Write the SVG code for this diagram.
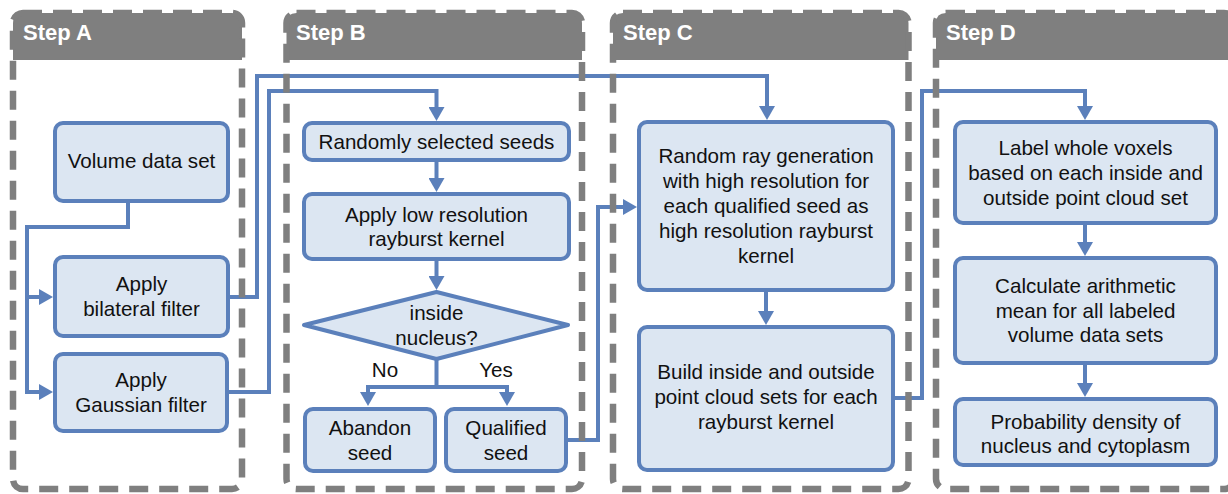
<svg xmlns="http://www.w3.org/2000/svg" width="1228" height="494" viewBox="0 0 1228 494">
<defs>
<style>
.hdr{fill:#7f7f7f}
.frame{fill:none;stroke:#7f7f7f;stroke-width:6.5;stroke-dasharray:19 11}
.ht{font-family:"Liberation Sans",Arial,sans-serif;font-weight:bold;font-size:22px;fill:#ffffff}
.box{fill:#dce6f2;stroke:#5b80bb;stroke-width:4}
.t{font-family:"Liberation Sans",Arial,sans-serif;font-size:20.6px;fill:#111111;text-anchor:middle}
.c{fill:none;stroke:#5b80bb;stroke-width:4;marker-end:url(#ah)}
.cl{fill:none;stroke:#5b80bb;stroke-width:4}
</style>
<marker id="ah" viewBox="0 0 14 16" refX="4" refY="8" markerWidth="14" markerHeight="16" markerUnits="userSpaceOnUse" orient="auto"><path d="M0,0 L14,8 L0,16 z" fill="#5b80bb"/></marker>
</defs>
<rect width="1228" height="494" fill="#ffffff"/>

<g id="connectors">
<path class="c" d="M128,201 V227 H27 V297 H43"/>
<path class="c" d="M27,297 V392 H43"/>
<path class="c" d="M228,297 H257 V76 H767 V110"/>
<path class="c" d="M227,392 H269 V91 H436.5 V111"/>
<path class="c" d="M436.5,161 V182"/>
<path class="c" d="M436.5,259 V280"/>
<path class="c" d="M436.5,359 V387 H368 V396"/>
<path class="c" d="M436.5,387 H507 V396"/>
<path class="c" d="M566,440 H598 V207 H627"/>
<path class="c" d="M766,290 V315"/>
<path class="c" d="M893,398 H922 V91 H1085 V110"/>
<path class="c" d="M1085,223 V246"/>
<path class="c" d="M1085,363 V387"/>
</g>

<g id="stepA">
<path class="hdr" d="M13,60 V23 Q13,13 23,13 H232 Q242,13 242,23 V60 Z"/>
<rect class="frame" x="13" y="13" width="229" height="476" rx="10"/>
<text class="ht" x="23" y="40">Step A</text>
</g>
<g id="stepB">
<path class="hdr" d="M286.5,60 V23 Q286.5,13 296.5,13 H572 Q582,13 582,23 V60 Z"/>
<rect class="frame" x="286.5" y="13" width="295.5" height="476" rx="10"/>
<text class="ht" x="296" y="40">Step B</text>
</g>
<g id="stepC">
<path class="hdr" d="M613,60 V23 Q613,13 623,13 H898.5 Q908.5,13 908.5,23 V60 Z"/>
<rect class="frame" x="613" y="13" width="295.5" height="476" rx="10"/>
<text class="ht" x="623" y="40">Step C</text>
</g>
<g id="stepD">
<path class="hdr" d="M936,60 V23 Q936,13 946,13 H1224 Q1234,13 1234,23 V60 Z"/>
<rect class="frame" x="936" y="13" width="298" height="476" rx="10"/>
<text class="ht" x="946" y="40">Step D</text>
</g>

<g id="volume">
<rect class="box" x="55" y="123" width="173" height="78" rx="8"/>
<text class="t" x="141.5" y="168">Volume data set</text>
</g>
<g id="bilateral">
<rect class="box" x="55" y="257" width="173" height="79" rx="8"/>
<text class="t" x="141.5" y="291">Apply</text>
<text class="t" x="141.5" y="316">bilateral filter</text>
</g>
<g id="gaussian">
<rect class="box" x="55" y="354" width="172" height="77" rx="8"/>
<text class="t" x="141" y="387">Apply</text>
<text class="t" x="141" y="412">Gaussian filter</text>
</g>
<g id="seeds">
<rect class="box" x="304" y="123" width="265" height="37" rx="8"/>
<text class="t" x="436.5" y="149">Randomly selected seeds</text>
</g>
<g id="lowres">
<rect class="box" x="304" y="194" width="265" height="65" rx="8"/>
<text class="t" x="436.5" y="222">Apply low resolution</text>
<text class="t" x="436.5" y="246">rayburst kernel</text>
</g>
<g id="decision">
<polygon class="box" points="304,325 436.5,292 568,325 436.5,359" stroke-linejoin="round"/>
<text class="t" x="436.5" y="320">inside</text>
<text class="t" x="436.5" y="345">nucleus?</text>
</g>
<g id="labels">
<text class="t" x="385" y="377">No</text>
<text class="t" x="496" y="377">Yes</text>
</g>
<g id="abandon">
<rect class="box" x="305" y="409" width="130" height="62" rx="8"/>
<text class="t" x="370" y="435">Abandon</text>
<text class="t" x="370" y="460">seed</text>
</g>
<g id="qualified">
<rect class="box" x="446" y="409" width="120" height="62" rx="8"/>
<text class="t" x="506" y="435">Qualified</text>
<text class="t" x="506" y="460">seed</text>
</g>
<g id="randomray">
<rect class="box" x="639" y="122" width="254" height="168" rx="8"/>
<text class="t" x="766" y="163">Random ray generation</text>
<text class="t" x="766" y="188">with high resolution for</text>
<text class="t" x="766" y="213">each qualified seed as</text>
<text class="t" x="766" y="238">high resolution rayburst</text>
<text class="t" x="766" y="263">kernel</text>
</g>
<g id="build">
<rect class="box" x="639" y="327" width="254" height="143" rx="8"/>
<text class="t" x="766" y="379">Build inside and outside</text>
<text class="t" x="766" y="404">point cloud sets for each</text>
<text class="t" x="766" y="429">rayburst kernel</text>
</g>
<g id="label">
<rect class="box" x="955" y="122" width="261" height="101" rx="8"/>
<text class="t" x="1085.5" y="155">Label whole voxels</text>
<text class="t" x="1085.5" y="180">based on each inside and</text>
<text class="t" x="1085.5" y="205">outside point cloud set</text>
</g>
<g id="calc">
<rect class="box" x="955" y="258" width="261" height="105" rx="8"/>
<text class="t" x="1085.5" y="293">Calculate arithmetic</text>
<text class="t" x="1085.5" y="318">mean for all labeled</text>
<text class="t" x="1085.5" y="342">volume data sets</text>
</g>
<g id="prob">
<rect class="box" x="955" y="399" width="261" height="66" rx="8"/>
<text class="t" x="1085.5" y="429">Probability density of</text>
<text class="t" x="1085.5" y="453">nucleus and cytoplasm</text>
</g>
</svg>
